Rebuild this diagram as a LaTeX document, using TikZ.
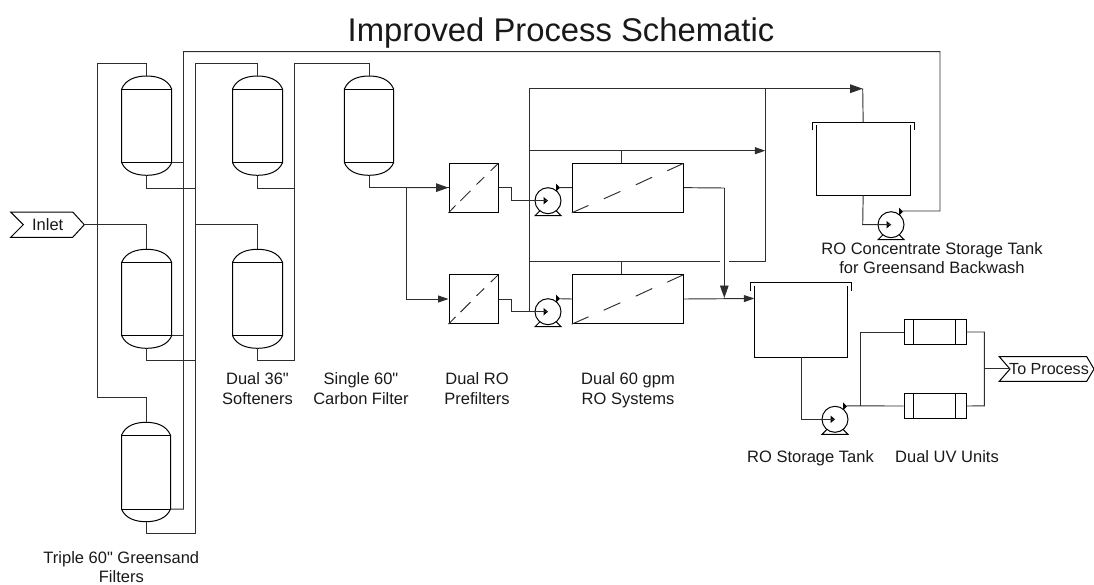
\documentclass[tikz,border=0pt]{standalone}
\usepackage{fontspec}
\setmainfont{Liberation Sans}
\newfontfamily\lsans{Liberation Sans}
\usetikzlibrary{arrows.meta}
\tikzset{
  x=1pt,y=-1pt,
  pipe/.style={line width=0.95pt,draw=black!82,line join=miter},
  shape line/.style={line width=1pt,draw=black},
  flow/.style={pipe,-{Triangle[length=12.5pt,width=8.6pt]}},
  flowsmall/.style={pipe,-{Triangle[length=10.5pt,width=7pt]}},
  label/.style={font=\lsans\fontsize{16.5}{19.5}\selectfont,align=center,inner sep=0pt,text=black!90},
  title/.style={font=\lsans\fontsize{32.8}{36}\selectfont,inner sep=0pt,text=black!90},
  pumpcircle/.style={circle,draw=black,line width=1pt,minimum size=26pt,inner sep=0pt},
  vesselbox/.style={rectangle,draw=black,line width=1pt,inner sep=0pt},
}
% vessel: name, centre x, top y, bottom y, half width
\newcommand{\vessel}[5]{%
  \coordinate (#1t) at (#2,#3);
  \coordinate (#1b) at (#2,#4);
  \coordinate (#1r) at (#2+#5,#4-12.6);
  \draw[shape line] (#2-#5,#3+13) .. controls (#2-#5+4,#3+3) and (#2-10,#3) .. (#2,#3)
     .. controls (#2+10,#3) and (#2+#5-4,#3+3) .. (#2+#5,#3+13) -- (#2+#5,#4-12.6)
     .. controls (#2+#5-4,#4-3) and (#2+10,#4) .. (#2,#4)
     .. controls (#2-10,#4) and (#2-#5+4,#4-3) .. (#2-#5,#4-12.6) -- cycle;
  \draw[shape line] (#2-#5,#3+13) -- (#2+#5,#3+13);
  \draw[shape line] (#2-#5,#4-12.6) -- (#2+#5,#4-12.6);
}
% pump: name, centre x, centre y
\newcommand{\pump}[3]{%
  \node[pumpcircle] (#1) at (#2,#3) {};
  \draw[shape line] (#2-8,#3+10) -- (#2-13,#3+15) -- (#2+13,#3+15) -- (#2+8,#3+10);
  \coordinate (#1o) at (#2+11,#3-13);
  \fill[black] (#2,#3) -- (#2-4.5,#3-3.8) -- (#2-4.5,#3+3.8) -- cycle;
  \fill[black] (#2+12,#3-13) -- (#2+8,#3-17) -- (#2+8,#3-9) -- cycle;
}
% tank: name, left, right, top, bottom
\newcommand{\tank}[5]{%
  \coordinate (#1c) at ({(#2+#3)/2},#4);
  \coordinate (#1d) at ({(#2+#3)/2},#5);
  \draw[shape line] (#2,#4+3) -- (#2,#5) -- (#3,#5) -- (#3,#4+3);
  \draw[shape line] (#2-4,#4+8) -- (#2-4,#4) -- (#3+4,#4) -- (#3+4,#4+8);
}
% UV unit: name, y top
\newcommand{\uv}[2]{%
  \node[vesselbox,minimum width=62pt,minimum height=24.6pt] (#1) at (935,#2+12.3) {};
  \draw[shape line] (913.3,#2) -- (913.3,#2+24.6);
  \draw[shape line] (955.7,#2) -- (955.7,#2+24.6);
}
\begin{document}
\begin{tikzpicture}
\useasboundingbox (0,0) rectangle (1094,584);
\node[title] (ttl) at (561,33) {Improved Process Schematic};

% flags
\node[label] (inlet) at (47.7,225) {Inlet};
\draw[shape line] (10.7,212) -- (72.7,212) -- (84.3,224.7) -- (72.7,237.3) -- (10.7,237.3) -- (23.3,224.7) -- cycle;
\coordinate (inletout) at (84.3,224.7);

% vessels
\vessel{ga}{146.7}{76}{175.3}{25}
\vessel{gb}{146.7}{249.3}{348.3}{25}
\vessel{gc}{146}{422.3}{521.7}{24.5}
\vessel{sa}{257.5}{76}{175.3}{25}
\vessel{sb}{257.5}{249.3}{348.3}{25}
\vessel{cf}{369}{76}{175.3}{24.6}

% greensand piping
\draw[pipe] (inletout) -- (146.7,224.7) -- (gbt);
\draw[pipe] (gat) -- (146.7,63.7) -- (97,63.7) -- (97,397.7) -- (146,397.7) -- (gct);
\draw[pipe] (gar) -- (183.5,162.7);
\draw[pipe] (gbr) -- (183.5,335.7);
\draw[pipe] (gcr) -- (183.5,509.1) -- (183.5,51.7) -- (940,51.7) -- (940,211) -- (902.7,211);
\draw[pipe] (gab) -- (146.7,188) -- (195.5,188);
\draw[pipe] (gbb) -- (146.7,360.7) -- (195.5,360.7);
\draw[pipe] (gcb) -- (146,533.3) -- (195.5,533.3) -- (195.5,63.7) -- (257.5,63.7) -- (sat);
\draw[pipe] (195.5,224) -- (257.5,224) -- (sbt);

% softener piping
\draw[pipe] (sab) -- (257.5,188) -- (294.7,188);
\draw[pipe] (sbb) -- (257.5,360.7) -- (294.7,360.7) -- (294.7,63.7) -- (369,63.7) -- (cft);

% prefilters
\node[vesselbox,minimum width=49.7pt,minimum height=49.3pt] (pfa) at (473.85,187.65) {};
\node[vesselbox,minimum width=49.7pt,minimum height=49.3pt] (pfb) at (473.85,299) {};
\foreach \n in {pfa,pfb} {
  \begin{scope}[shift={(\n.south west)}]
    \draw[pipe] (0,0) -- (7,-7.3);
    \draw[pipe] (12,-12) -- (22,-22);
    \draw[pipe] (28,-28.3) -- (35.7,-35.7);
    \draw[pipe] (42.2,-42) -- (49.7,-49.3);
  \end{scope}
}
\draw[pipe] (cfb) -- (369,187.6) -- (449,187.6);
\draw[flow] (406,187.6) -- (pfa.west);
\draw[flowsmall] (406,187.6) -- (406,299) -- (pfb.west);

% RO systems
\node[vesselbox,minimum width=111.4pt,minimum height=49.3pt] (roa) at (628,187.65) {};
\node[vesselbox,minimum width=111.4pt,minimum height=49.3pt] (rob) at (628,299) {};
\foreach \n in {roa,rob} {
  \begin{scope}[shift={(\n.south west)}]
    \draw[pipe] (0,0) -- (16.6,-7.3);
    \draw[pipe] (32,-14) -- (48.6,-21.4);
    \draw[pipe] (64,-28) -- (80.4,-35.6);
    \draw[pipe] (95.4,-42) -- (111.4,-49.3);
  \end{scope}
}
\pump{pa}{548}{200.7}
\pump{pb}{548}{311.7}
\draw[pipe] (pfa.east) -- (511,187.65) -- (511,200.7) -- (pa.center);
\draw[pipe] (pfb.east) -- (511,299) -- (511,311.7) -- (pb.center);
\draw[pipe] (pao) -- (roa.west);
\draw[pipe] (pbo) -- (rob.west);

% RO headers
\draw[pipe] (529.3,311.7) -- (529.3,88.7);
\draw[flow] (529.3,88.7) -- (862.7,88.7);
\draw[flowsmall] (529.3,150.7) -- (765.3,150.7);
\draw[pipe] (765.3,88.7) -- (765.3,261.7) -- (728.7,261.7);
\draw[pipe] (720,261.7) -- (529.3,261.7);
\draw[pipe] (621.7,150.7) -- (621.7,163);
\draw[pipe] (621.7,261.7) -- (621.7,274.3);

% tanks
\tank{ct}{816.3}{910}{122.3}{195.3}
\tank{rt}{754.3}{847.7}{282.5}{357}
\draw[pipe] (862.7,88.7) -- (ctc);
\pump{pc}{891}{224.7}
\pump{pd}{835}{419.3}
\draw[pipe] (ctd) -- (862.7,224.7) -- (pc.center);
\draw[pipe] (rtd) -- (801,419.3) -- (pd.center);

% RO to storage
\draw[pipe] (roa.east) -- (724.3,188);
\draw[flow] (724.3,188) -- (724.3,298);
\draw[flowsmall] (rob.east) -- (754.3,298.5);

% UV
\uv{uva}{319.7}
\uv{uvb}{393.7}
\draw[pipe] (846.7,405.9) -- (uvb.west);
\draw[pipe] (860.7,405.9) -- (860.7,332) -- (uva.west);
\draw[pipe] (uva.east) -- (984.3,332) -- (984.3,405.9) -- (uvb.east);
\node[label,font=\lsans\fontsize{16.1}{19.5}\selectfont] (proc) at (1049,369) {To Process};
\draw[shape line] (999.3,356.7) -- (1086.7,356.7) -- (1094,369) -- (1086.7,381.3) -- (999.3,381.3) -- (1010,369) -- cycle;
\draw[pipe] (984.3,368.7) -- (1010,368.7);

% labels
\node[label] (l1) at (121.3,569) {\strut Triple 60" Greensand\\\strut Filters};
\node[label] (l2) at (257.5,390.5) {\strut Dual 36"\\\strut Softeners};
\node[label] (l3) at (361,390.5) {\strut Single 60"\\\strut Carbon Filter};
\node[label] (l4) at (477,390.5) {\strut Dual RO\\\strut Prefilters};
\node[label] (l5) at (628,390.5) {\strut Dual 60 gpm\\\strut RO Systems};
\node[label] (l6) at (932,260) {\strut RO Concentrate Storage Tank\\\strut for Greensand Backwash};
\node[label] (l7) at (810.5,458.5) {\strut RO Storage Tank};
\node[label] (l8) at (947,458.5) {\strut Dual UV Units};
\end{tikzpicture}
\end{document}
